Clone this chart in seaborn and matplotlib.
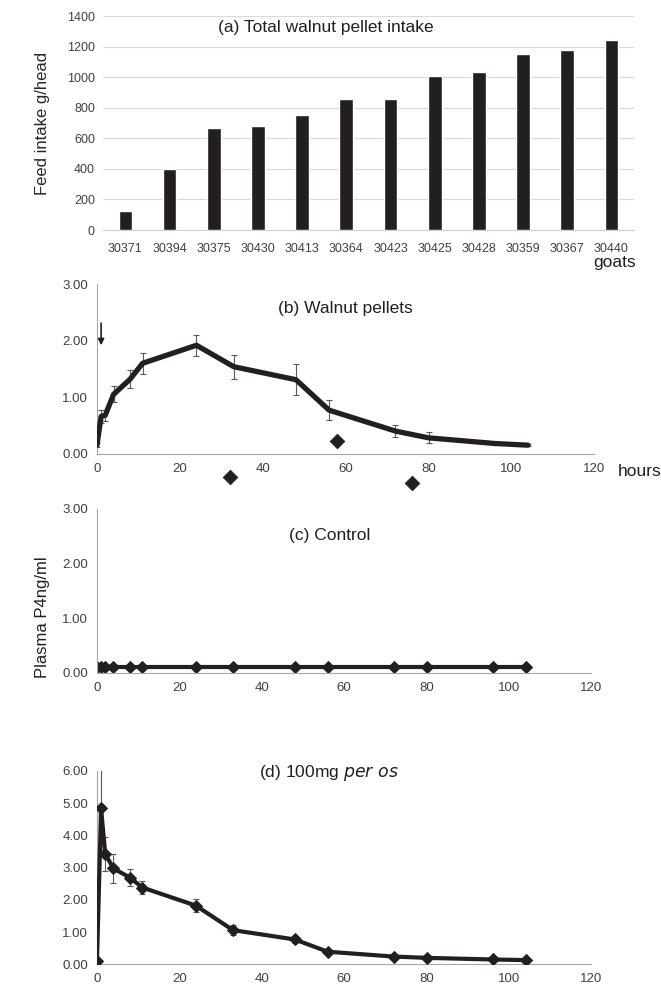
import numpy as np
import pandas as pd
import seaborn as sns
import matplotlib.pyplot as plt

# panel (a) total intake per goat
goats = ['30371', '30394', '30375', '30430', '30413', '30364', '30423',
         '30425', '30428', '30359', '30367', '30440']
intake = [124, 400, 669, 680, 750, 855, 859, 1010, 1034, 1154, 1180, 1245]

# sampling times (h)
hours = [0, 1, 2, 4, 8, 11, 24, 33, 48, 56, 72, 80, 96, 104]

# (b) walnut pellets
walnut_mean = [0.15, 0.66, 0.68, 1.05, 1.32, 1.60, 1.92, 1.54, 1.31, 0.77, 0.40, 0.28, 0.18, 0.15]
walnut_err = [0.04, 0.12, 0.10, 0.14, 0.16, 0.19, 0.19, 0.21, 0.27, 0.18, 0.11, 0.10, 0.03, 0.02]
# significance markers below the curve
sig_x = [32, 58, 76]
sig_y = [-0.41, 0.23, -0.52]

# (c) control
control_mean = [0.10, 0.10, 0.10, 0.10, 0.10, 0.10, 0.10, 0.10, 0.10, 0.10, 0.10, 0.10, 0.10, 0.10]

# (d) 100 mg per os
oral_mean = [0.11, 4.83, 3.42, 2.97, 2.69, 2.38, 1.82, 1.06, 0.77, 0.39, 0.24, 0.20, 0.15, 0.13]
oral_err = [0.02, 1.30, 0.54, 0.44, 0.25, 0.21, 0.20, 0.15, 0.12, 0.06, 0.05, 0.04, 0.03, 0.03]

sns.set_style("white")
plt.rcParams['font.family'] = ['Liberation Sans Narrow', 'Liberation Sans', 'DejaVu Sans']

dark = '#231f20'
axis_grey = '#a6a6a6'
tick_col = '#404040'

fig = plt.figure(figsize=(6.61, 9.86), dpi=100)

# ---- (a) bar chart
ax_a = fig.add_axes([0.1563, 0.7667, 0.8022, 0.2170])
df_a = pd.DataFrame({'goat': goats, 'intake': intake})
sns.barplot(data=df_a, x='goat', y='intake', order=goats, color=dark,
            width=0.31, saturation=1, ax=ax_a, zorder=3)
ax_a.set_xlim(-0.5, 11.5)
ax_a.set_ylim(0, 1400)
ax_a.set_yticks(range(0, 1401, 200))
ax_a.yaxis.grid(True, color='#d9d9d9', linewidth=0.8, zorder=0)
ax_a.set_axisbelow(True)
for s in ['top', 'right', 'left']:
    ax_a.spines[s].set_visible(False)
ax_a.spines['bottom'].set_color('#d0d0d0')
ax_a.tick_params(axis='both', length=0, labelsize=9, labelcolor=tick_col, pad=6)
ax_a.tick_params(axis='x', pad=9)
ax_a.set_xlabel('')
ax_a.set_ylabel('Feed intake g/head', family='Liberation Sans', fontsize=12, labelpad=12)
ax_a.text(0.42, 0.945, '(a) Total walnut pellet intake', transform=ax_a.transAxes,
          ha='center', va='center', fontsize=12.5, color=dark)
fig.text(0.930, 1 - 263 / 986, 'goats', ha='center', va='center', fontsize=12.5, color=dark)


def style_line_axes(ax, ymax, ystep):
    ax.set_xlim(0, 120)
    ax.set_ylim(0, ymax)
    ax.set_xticks(range(0, 121, 20))
    ax.set_yticks(np.arange(0, ymax + 0.001, ystep))
    ax.yaxis.set_major_formatter(plt.FormatStrFormatter('%.2f'))
    for s in ['top', 'right']:
        ax.spines[s].set_visible(False)
    for s in ['left', 'bottom']:
        ax.spines[s].set_color(axis_grey)
        ax.spines[s].set_linewidth(0.8)
    ax.tick_params(axis='both', direction='out', length=3, width=0.8, color=axis_grey,
                   labelsize=9.5, labelcolor=tick_col)
    ax.set_xlabel('')
    ax.set_ylabel('')


# ---- (b) walnut pellets
ax_b = fig.add_axes([0.1467, 0.5399, 0.7525, 0.1718])
df_b = pd.DataFrame({'h': hours, 'p4': walnut_mean})
ax_b.errorbar(hours, walnut_mean, yerr=walnut_err, fmt='none', ecolor='#595959',
              elinewidth=0.8, capsize=2.5, capthick=0.8, zorder=2)
sns.lineplot(data=df_b, x='h', y='p4', color=dark, linewidth=3.8, ax=ax_b, zorder=3)
sns.scatterplot(x=sig_x, y=sig_y, marker='D', s=55, color=dark, edgecolor=dark,
                ax=ax_b, clip_on=False, zorder=4)
style_line_axes(ax_b, 3, 1)
ax_b.annotate('', xy=(1, 1.87), xytext=(1, 2.36),
              arrowprops=dict(arrowstyle='-|>', color=dark, lw=1.2, mutation_scale=9))
ax_b.text(0.50, 0.855, '(b) Walnut pellets', transform=ax_b.transAxes,
          ha='center', va='center', fontsize=12.5, color=dark)
fig.text(0.968, 1 - 472 / 986, 'hours', ha='center', va='center', fontsize=12.5, color=dark)

# ---- (c) control
ax_c = fig.add_axes([0.1467, 0.3178, 0.7481, 0.1660])
df_c = pd.DataFrame({'h': hours, 'p4': control_mean})
sns.lineplot(data=df_c, x='h', y='p4', color=dark, linewidth=3, marker='D',
             markersize=6, markeredgecolor=dark, ax=ax_c)
style_line_axes(ax_c, 3, 1)
ax_c.text(0.47, 0.84, '(c) Control', transform=ax_c.transAxes,
          ha='center', va='center', fontsize=12.5, color=dark)
fig.text(0.064, 1 - 617 / 986, 'Plasma P4ng/ml', rotation=90, ha='center', va='center',
         family='Liberation Sans', fontsize=12, color=dark)

# ---- (d) 100 mg per os
ax_d = fig.add_axes([0.1467, 0.0220, 0.7481, 0.1963])
df_d = pd.DataFrame({'h': hours, 'p4': oral_mean})
ax_d.errorbar(hours, oral_mean, yerr=oral_err, fmt='none', ecolor='#595959',
              elinewidth=0.8, capsize=2.5, capthick=0.8, zorder=2)
sns.lineplot(data=df_d, x='h', y='p4', color=dark, linewidth=3, marker='D',
             markersize=6, markeredgecolor=dark, ax=ax_d, zorder=3)
style_line_axes(ax_d, 6, 1)
ax_d.text(0.47, 0.99, '(d) 100mg $\\it{per\\ os}$', transform=ax_d.transAxes,
          ha='center', va='center', fontsize=12.5, color=dark)

fig.savefig('out.png', dpi=100)
